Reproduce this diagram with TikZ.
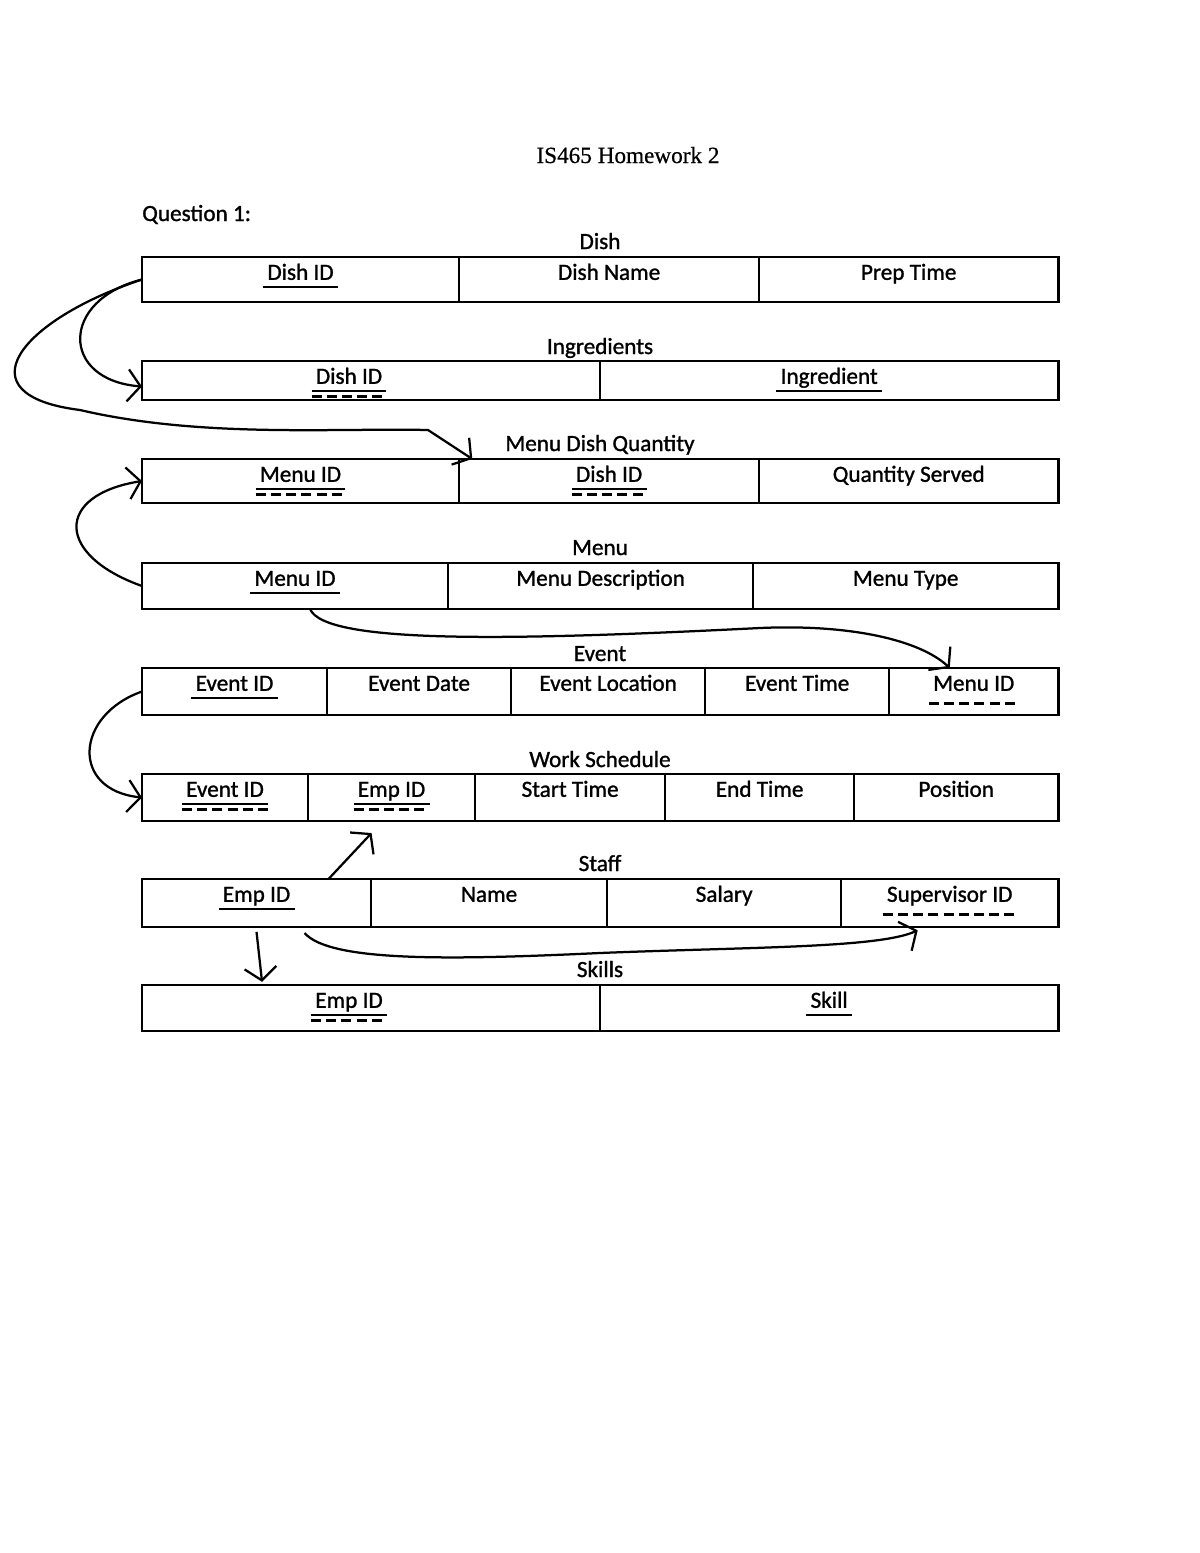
\documentclass[tikz,border=0pt]{standalone}
\usepackage{fontspec}
\setmainfont{Carlito}[UprightFeatures={FakeBold=1.2}]
\newfontfamily\headfont{Liberation Serif}[UprightFeatures={FakeBold=0.6}]
\usetikzlibrary{positioning,arrows.meta}

\tikzset{
  cell/.style={draw, line width=1.2pt, outer sep=0pt, inner sep=0pt, minimum height=1.15cm},
  tblframe/.style={line width=2pt},
  ttl/.style={anchor=base, inner sep=0pt},
  fld/.style={anchor=base, inner xsep=0.1cm, inner ysep=0pt},
  ul/.style={line width=2pt},
  dl/.style={line width=1.8pt, dash pattern=on 0.25cm off 0.13cm},
  pk/.style={append after command={([yshift=-0.18cm]\tikzlastnode.base west) edge[ul] ([yshift=-0.18cm]\tikzlastnode.base east)}},
  fk/.style={append after command={([yshift=-0.32cm]\tikzlastnode.base west) edge[dl] ([yshift=-0.32cm]\tikzlastnode.base east)}},
  link/.style={line width=1.6pt, -{Straight Barb[length=0.32cm,width=0.8cm]}},
}

\begin{document}
\begin{tikzpicture}[x=0.025cm, y=-0.025cm, font=\fontsize{16.5}{19}\selectfont]
  \useasboundingbox (0,0) rectangle (1200,1553);

  % heading
  \node[ttl, font=\headfont\fontsize{16.5}{19}\selectfont] (head) at (628,163) {IS465 Homework 2};
  \node[ttl, anchor=base west] (q1) at (142,221) {Question 1:};

  % Dish
  \node[ttl] (t-dish) at (600,249) {Dish};
  \node[cell, minimum width=7.925cm, minimum height=1.125cm, anchor=north west] (d1) at (142,257) {};
  \node[cell, minimum width=7.5cm, minimum height=1.125cm, right=0pt of d1] (d2) {};
  \node[cell, minimum width=7.475cm, minimum height=1.125cm, right=0pt of d2] (d3) {};
  \draw[tblframe] (d1.north west) rectangle (d3.south east);
  \node[fld, pk] (f-d1) at ([yshift=-0.57cm]d1.north) {Dish ID};
  \node[fld] (f-d2) at ([yshift=-0.57cm]d2.north) {Dish Name};
  \node[fld] (f-d3) at ([yshift=-0.57cm]d3.north) {Prep Time};

  % Ingredients
  \node[ttl] (t-ingr) at (600,354) {Ingredients};
  \node[cell, minimum width=11.45cm, minimum height=0.975cm, anchor=north west] (i1) at (142,361) {};
  \node[cell, minimum width=11.45cm, minimum height=0.975cm, right=0pt of i1] (i2) {};
  \draw[tblframe] (i1.north west) rectangle (i2.south east);
  \node[fld, pk, fk] (f-i1) at ([xshift=-0.55cm, yshift=-0.57cm]i1.north) {Dish ID};
  \node[fld, pk] (f-i2) at ([yshift=-0.57cm]i2.north) {Ingredient};

  % Menu Dish Quantity
  \node[ttl] (t-mdq) at (600,451) {Menu Dish Quantity};
  \node[cell, minimum width=7.925cm, minimum height=1.1cm, anchor=north west] (m1) at (142,459) {};
  \node[cell, minimum width=7.5cm, minimum height=1.1cm, right=0pt of m1] (m2) {};
  \node[cell, minimum width=7.475cm, minimum height=1.1cm, right=0pt of m2] (m3) {};
  \draw[tblframe] (m1.north west) rectangle (m3.south east);
  \node[fld, pk, fk] (f-m1) at ([yshift=-0.57cm]m1.north) {Menu ID};
  \node[fld, pk, fk] (f-m2) at ([yshift=-0.57cm]m2.north) {Dish ID};
  \node[fld] (f-m3) at ([yshift=-0.57cm]m3.north) {Quantity Served};

  % Menu
  \node[ttl] (t-menu) at (600,555) {Menu};
  \node[cell, minimum width=7.65cm, anchor=north west] (n1) at (142,563) {};
  \node[cell, minimum width=7.625cm, right=0pt of n1] (n2) {};
  \node[cell, minimum width=7.625cm, right=0pt of n2] (n3) {};
  \draw[tblframe] (n1.north west) rectangle (n3.south east);
  \node[fld, pk] (f-n1) at ([yshift=-0.57cm]n1.north) {Menu ID};
  \node[fld] (f-n2) at ([yshift=-0.57cm]n2.north) {Menu Description};
  \node[fld] (f-n3) at ([yshift=-0.57cm]n3.north) {Menu Type};

  % Event
  \node[ttl] (t-event) at (600,661) {Event};
  \node[cell, minimum width=4.625cm, minimum height=1.175cm, anchor=north west] (e1) at (142,668) {};
  \node[cell, minimum width=4.6cm, minimum height=1.175cm, right=0pt of e1] (e2) {};
  \node[cell, minimum width=4.85cm, minimum height=1.175cm, right=0pt of e2] (e3) {};
  \node[cell, minimum width=4.6cm, minimum height=1.175cm, right=0pt of e3] (e4) {};
  \node[cell, minimum width=4.225cm, minimum height=1.175cm, right=0pt of e4] (e5) {};
  \draw[tblframe] (e1.north west) rectangle (e5.south east);
  \node[fld, pk] (f-e1) at ([yshift=-0.57cm]e1.north) {Event ID};
  \node[fld] (f-e2) at ([yshift=-0.57cm]e2.north) {Event Date};
  \node[fld] (f-e3) at ([yshift=-0.57cm]e3.north) {Event Location};
  \node[fld] (f-e4) at ([yshift=-0.57cm]e4.north) {Event Time};
  \node[fld, fk] (f-e5) at ([yshift=-0.57cm]e5.north) {Menu ID};

  % Work Schedule
  \node[ttl] (t-work) at (600,767) {Work Schedule};
  \node[cell, minimum width=4.15cm, minimum height=1.175cm, anchor=north west] (w1) at (142,774) {};
  \node[cell, minimum width=4.175cm, minimum height=1.175cm, right=0pt of w1] (w2) {};
  \node[cell, minimum width=4.75cm, minimum height=1.175cm, right=0pt of w2] (w3) {};
  \node[cell, minimum width=4.725cm, minimum height=1.175cm, right=0pt of w3] (w4) {};
  \node[cell, minimum width=5.1cm, minimum height=1.175cm, right=0pt of w4] (w5) {};
  \draw[tblframe] (w1.north west) rectangle (w5.south east);
  \node[fld, pk, fk] (f-w1) at ([yshift=-0.57cm]w1.north) {Event ID};
  \node[fld, pk, fk] (f-w2) at ([yshift=-0.57cm]w2.north) {Emp ID};
  \node[fld] (f-w3) at ([yshift=-0.57cm]w3.north) {Start Time};
  \node[fld] (f-w4) at ([yshift=-0.57cm]w4.north) {End Time};
  \node[fld] (f-w5) at ([yshift=-0.57cm]w5.north) {Position};

  % Staff
  \node[ttl] (t-staff) at (600,871) {Staff};
  \node[cell, minimum width=5.725cm, minimum height=1.2cm, anchor=north west] (s1) at (142,879) {};
  \node[cell, minimum width=5.9cm, minimum height=1.2cm, right=0pt of s1] (s2) {};
  \node[cell, minimum width=5.85cm, minimum height=1.2cm, right=0pt of s2] (s3) {};
  \node[cell, minimum width=5.425cm, minimum height=1.2cm, right=0pt of s3] (s4) {};
  \draw[tblframe] (s1.north west) rectangle (s4.south east);
  \node[fld, pk] (f-s1) at ([yshift=-0.57cm]s1.north) {Emp ID};
  \node[fld] (f-s2) at ([yshift=-0.57cm]s2.north) {Name};
  \node[fld] (f-s3) at ([yshift=-0.57cm]s3.north) {Salary};
  \node[fld, fk] (f-s4) at ([yshift=-0.57cm]s4.north) {Supervisor ID};

  % Skills
  \node[ttl] (t-skills) at (600,977) {Skills};
  \node[cell, minimum width=11.45cm, anchor=north west] (k1) at (142,985) {};
  \node[cell, minimum width=11.45cm, right=0pt of k1] (k2) {};
  \draw[tblframe] (k1.north west) rectangle (k2.south east);
  \node[fld, pk, fk] (f-k1) at ([xshift=-0.55cm, yshift=-0.57cm]k1.north) {Emp ID};
  \node[fld, pk] (f-k2) at ([yshift=-0.57cm]k2.north) {Skill};

  % references
  \draw[link] (d1.west) .. controls (60,300) and (60,380) .. ([yshift=-0.15cm]i1.west);
  \draw[link] (d1.west) .. controls (20,320) and (-40,395) .. (80,410)
    .. controls (200,438) and (330,428) .. (428,430) -- ([xshift=0.33cm]m2.north west);
  \draw[link] (n1.west) .. controls (55,555) and (55,495) .. (m1.west);
  \draw[link] ([xshift=0.375cm]n1.south) .. controls (325,645) and (520,640) .. (760,628)
    .. controls (850,624) and (920,640) .. ([xshift=-0.6cm]e5.north);
  \draw[link] (e1.west) .. controls (75,715) and (70,790) .. (w1.west);
  \draw[link] ([xshift=1.8cm]s1.north) -- ([xshift=-0.5cm, yshift=-0.3cm]w2.south);
  \draw[link] ([yshift=-0.12cm]s1.south) -- ([xshift=3cm, yshift=0.08cm]k1.north west);
  \draw[link] ([xshift=1.2cm, yshift=-0.15cm]s1.south) .. controls (330,962) and (450,960) .. (600,953)
    .. controls (750,947) and (880,948) .. ([xshift=-0.8cm, yshift=-0.08cm]s4.south);
\end{tikzpicture}
\end{document}
